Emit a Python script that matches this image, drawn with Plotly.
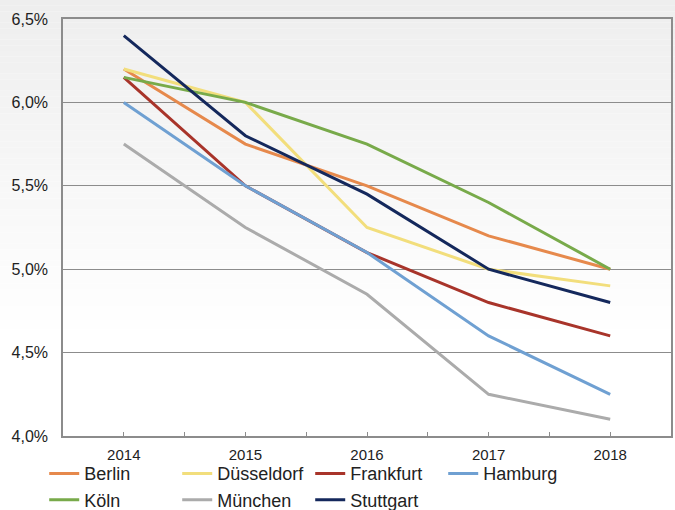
import plotly.graph_objects as go

# Yields by city, in percent
years = [2014, 2015, 2016, 2017, 2018]
berlin = [6.20, 5.75, 5.50, 5.20, 5.00]
duesseldorf = [6.20, 6.00, 5.25, 5.00, 4.90]
frankfurt = [6.15, 5.50, 5.10, 4.80, 4.60]
hamburg = [6.00, 5.50, 5.10, 4.60, 4.25]
koeln = [6.15, 6.00, 5.75, 5.40, 5.00]
muenchen = [5.75, 5.25, 4.85, 4.25, 4.10]
stuttgart = [6.40, 5.80, 5.45, 5.00, 4.80]

y_ticks = [4.0, 4.5, 5.0, 5.5, 6.0, 6.5]
y_tick_labels = [f"{v:.1f}".replace(".", ",") + "%" for v in y_ticks]

series = [
    ("Berlin", berlin, "#E6894C"),
    ("Düsseldorf", duesseldorf, "#F2DE7C"),
    ("Frankfurt", frankfurt, "#A8342A"),
    ("Hamburg", hamburg, "#6FA0D2"),
    ("Köln", koeln, "#78AA4A"),
    ("München", muenchen, "#ABABAB"),
    ("Stuttgart", stuttgart, "#14285C"),
]

fig = go.Figure()
for name, vals, color in series:
    fig.add_trace(go.Scatter(
        x=years, y=vals, name=name, mode="lines",
        line=dict(color=color, width=3),
    ))

W, H = 675, 510
ml, mr, mt, mb = 63, 4, 19, 74
pw, ph = W - ml - mr, H - mt - mb

# soft vertical gradient behind the whole figure (light grey at top -> white)
shapes = []
n_bands = 60
grad_end = 340
for i in range(n_bands):
    top_px = grad_end * i / n_bands
    bot_px = grad_end * (i + 1) / n_bands
    t = i / (n_bands - 1)
    g = int(round(238 + (255 - 238) * t))
    shapes.append(dict(
        type="rect", xref="paper", yref="paper", layer="below",
        x0=-ml / pw, x1=(W - ml) / pw,
        y0=(H - mb - bot_px) / ph, y1=(H - mb - top_px) / ph,
        line=dict(width=0), fillcolor=f"rgb({g},{g},{g})",
    ))

fig.update_layout(
    width=W, height=H,
    margin=dict(l=ml, r=mr, t=mt, b=mb, autoexpand=False),
    paper_bgcolor="white",
    plot_bgcolor="rgba(0,0,0,0)",
    font=dict(family="Liberation Sans, Arial, sans-serif", color="#222222"),
    shapes=shapes,
    showlegend=True,
    legend=dict(
        orientation="h", x=0.4066, xanchor="center", y=-0.046, yanchor="top",
        font=dict(size=18, color="#222222"),
        bgcolor="rgba(0,0,0,0)",
        entrywidth=88, entrywidthmode="pixels",
        tracegroupgap=0, itemwidth=30,
    ),
)

fig.update_xaxes(
    range=[2013.5, 2018.5],
    tickvals=years, ticktext=[str(y) for y in years],
    ticks="inside", ticklen=4, tickcolor="#8c8c8c",
    minor=dict(dtick=0.5, tick0=2013.5, ticks="inside", ticklen=4, tickcolor="#8c8c8c", showgrid=False),
    showgrid=False, zeroline=False,
    showline=True, linecolor="#8c8c8c", linewidth=1.5, mirror=True,
    tickfont=dict(size=15, color="#222222"),
    ticklabelstandoff=4,
)
fig.update_yaxes(
    range=[4.0, 6.5],
    tickvals=y_ticks, ticktext=y_tick_labels,
    ticks="", showgrid=True, gridcolor="#8c8c8c", gridwidth=1,
    zeroline=False,
    showline=True, linecolor="#8c8c8c", linewidth=1.5, mirror=True,
    tickfont=dict(size=16, color="#222222"),
    ticklabelstandoff=10,
)

fig.write_html("out.html")
